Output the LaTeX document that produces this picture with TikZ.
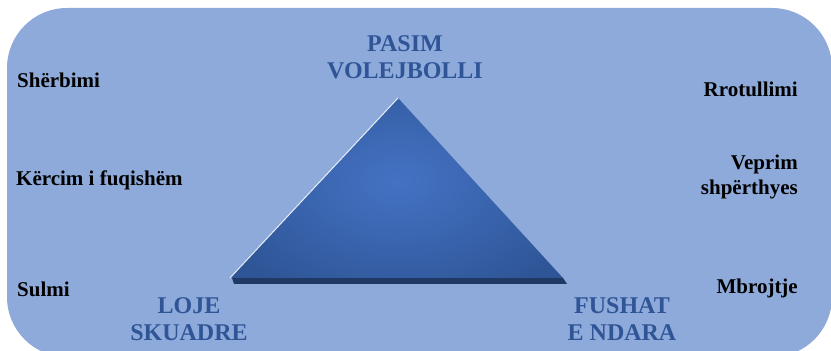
\documentclass[tikz,border=0pt]{standalone}
\usepackage{fontspec}
\setmainfont{Liberation Serif}
\definecolor{bgblue}{HTML}{8EAADB}
\definecolor{txtblue}{HTML}{2F5597}
\definecolor{triout}{HTML}{2E5596}
\definecolor{triin}{HTML}{4472C4}
\definecolor{stripblue}{HTML}{1F3864}
\tikzset{
  side/.style={font=\bfseries\fontsize{21}{25}\selectfont, text=black, inner sep=0pt},
  sideL/.style={side, anchor=west, align=left},
  sideR/.style={side, anchor=east, align=right},
  corner/.style={font=\bfseries\fontsize{24}{27}\selectfont, text=txtblue, align=center, inner sep=0pt},
}
\begin{document}
\begin{tikzpicture}[x=1pt,y=1pt]
\useasboundingbox (0,0) rectangle (831,351);
% background panel
\fill[bgblue, rounded corners=60pt] (7,-6) rectangle (832,343);
% triangle corners (y = 351 - pixel row)
\coordinate (apex) at (398,253);
\coordinate (bl) at (230,73);
\coordinate (br) at (563,73);
% base strip
\fill[stripblue] (232,73) -- (563,73) -- (567,67) -- (234,67) -- cycle;
% triangle body with radial gradient
\begin{scope}
  \clip (apex) -- (br) -- (bl) -- cycle;
  \shade[inner color=triin, outer color=triout] (200,40) rectangle (596,300);
\end{scope}
% highlight on left edge
\draw[white, line width=1pt, opacity=0.85, line cap=round] (bl) -- (apex);
% labels
\node[corner] (top) at (405,294) {PASIM\\VOLEJBOLLI};
\node[corner] (left) at (189,32) {LOJE\\SKUADRE};
\node[corner] (right) at (622,32) {FUSHAT\\E NDARA};
\node[sideL] (l1) at (17,271) {Shërbimi};
\node[sideL] (l2) at (16,171) {Kërcim i fuqishëm};
\node[sideL] (l3) at (17,62) {Sulmi};
\node[sideR] (r1) at (798,262) {Rrotullimi};
\node[sideR] (r2) at (798,174) {Veprim\\shpërthyes};
\node[sideR] (r3) at (798,63) {Mbrojtje};
\end{tikzpicture}
\end{document}
